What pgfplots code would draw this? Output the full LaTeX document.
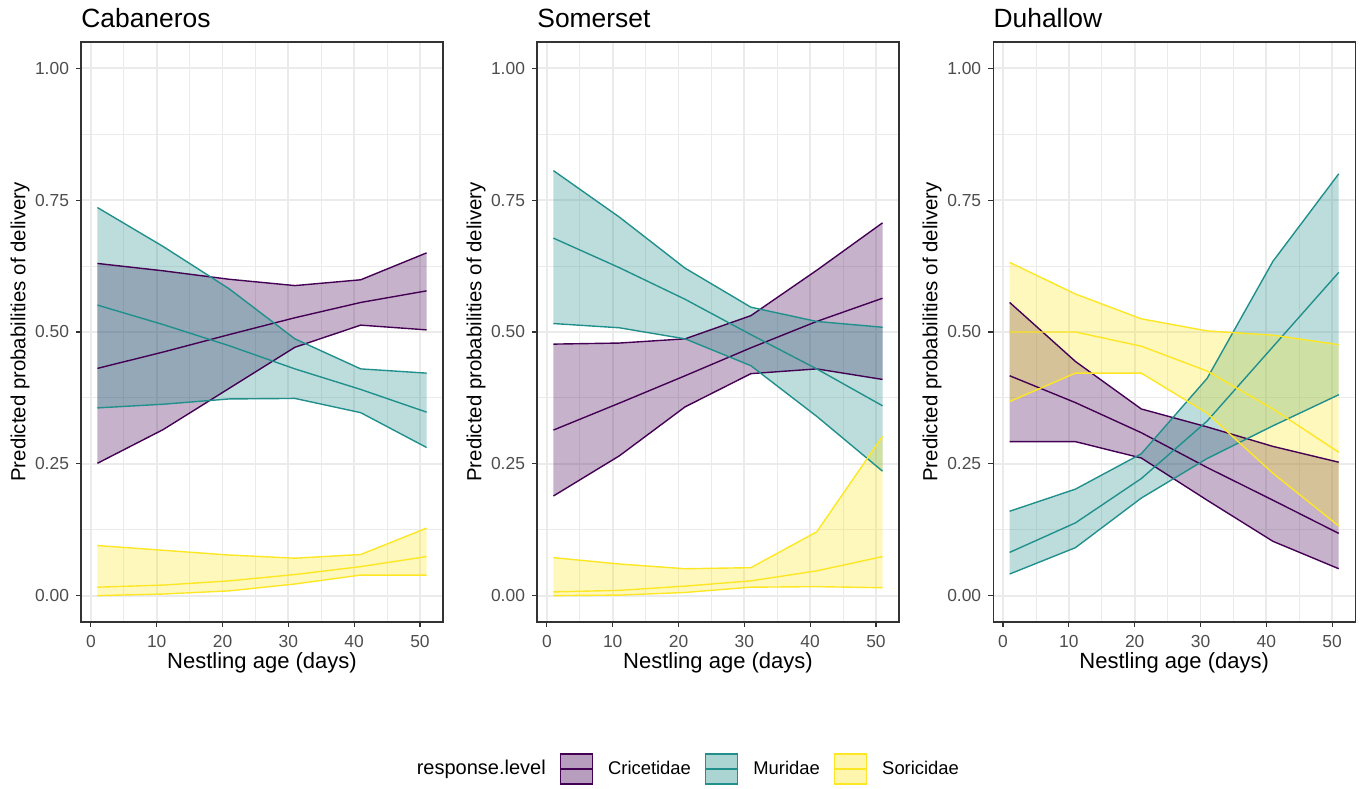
\documentclass[border=0pt]{standalone}
\usepackage{fontspec}
\setmainfont{Liberation Sans}
\usepackage{pgfplots}
\usepackage{pgfplotstable}
\pgfplotsset{compat=1.18}
\usepgfplotslibrary{fillbetween}

\definecolor{cri}{HTML}{440154}
\definecolor{mur}{HTML}{21908C}
\definecolor{sor}{HTML}{FDE725}
\definecolor{gridc}{HTML}{EBEBEB}
\definecolor{tickc}{HTML}{4D4D4D}
\definecolor{framec}{HTML}{333333}

% x = nestling age; c = Cricetidae, m = Muridae, s = Soricidae; u/m/l = upper/mean/lower
\pgfplotstableread{
x  cu    cm    cl    mu    mm    ml    su    sm    sl
1  0.630 0.431 0.251 0.736 0.551 0.356 0.095 0.016 0.000
11 0.616 0.462 0.315 0.662 0.514 0.363 0.086 0.020 0.003
21 0.600 0.495 0.393 0.582 0.474 0.373 0.077 0.028 0.009
31 0.588 0.527 0.471 0.487 0.430 0.374 0.071 0.040 0.022
41 0.599 0.556 0.513 0.430 0.391 0.347 0.078 0.055 0.039
51 0.650 0.578 0.504 0.422 0.348 0.281 0.128 0.074 0.039
}\cab
\pgfplotstableread{
x  cu    cm    cl    mu    mm    ml    su    sm    sl
1  0.477 0.314 0.189 0.806 0.678 0.516 0.072 0.007 0.000
11 0.479 0.365 0.265 0.718 0.622 0.508 0.060 0.010 0.001
21 0.487 0.417 0.358 0.621 0.562 0.487 0.051 0.018 0.006
31 0.531 0.470 0.421 0.547 0.495 0.436 0.053 0.028 0.016
41 0.617 0.520 0.430 0.520 0.430 0.340 0.121 0.047 0.017
51 0.707 0.564 0.410 0.509 0.360 0.236 0.302 0.074 0.015
}\som
\pgfplotstableread{
x  cu    cm    cl    mu    mm    ml    su    sm    sl
1  0.556 0.417 0.292 0.160 0.082 0.041 0.632 0.500 0.368
11 0.444 0.366 0.292 0.202 0.138 0.091 0.572 0.500 0.422
21 0.354 0.309 0.261 0.269 0.222 0.185 0.525 0.473 0.422
31 0.320 0.243 0.181 0.412 0.331 0.260 0.502 0.426 0.346
41 0.283 0.181 0.103 0.634 0.472 0.322 0.494 0.354 0.232
51 0.253 0.118 0.051 0.800 0.613 0.381 0.476 0.272 0.132
}\duh

\pgfplotsset{
  panel/.style={
    scale only axis, width=181pt, height=290pt,
    xmin=-1.5, xmax=53.5, ymin=-0.05, ymax=1.05,
    xtick={0,10,...,50}, ytick={0,0.25,0.5,0.75,1},
    minor xtick={5,15,...,45}, minor ytick={0.125,0.375,0.625,0.875},
    grid=both,
    major grid style={gridc, line width=0.9pt},
    minor grid style={gridc, line width=0.45pt},
    axis line style={framec, line width=0.6pt},
    tick align=outside, major tick length=2.5pt, minor tick length=0pt,
    tick style={framec, line width=0.6pt},
    xtick pos=left, ytick pos=left,
    /pgf/number format/assume math mode=true,
    ticklabel style={font=\fontsize{8.7}{9}\selectfont, text=tickc},
    xticklabel style={yshift=-0.6pt},
    yticklabel style={/pgf/number format/fixed, /pgf/number format/fixed zerofill, /pgf/number format/precision=2},
    xlabel={Nestling age (days)},
    ylabel={Predicted probabilities of delivery},
    every axis x label/.style={at={(axis description cs:0.5,-0.0707)}, anchor=center, font=\fontsize{11}{12}\selectfont},
    every axis y label/.style={at={(axis description cs:-0.1685,0.5)}, rotate=90, anchor=center, font=\fontsize{10.2}{12}\selectfont},
    every axis title/.style={at={(axis description cs:0,1)}, anchor=base west, inner sep=0pt, yshift=7pt, font=\fontsize{13.2}{14}\selectfont},
  },
  band/.style={draw=none, forget plot},
  ln/.style={#1, line width=0.7pt, forget plot},
  fl/.style={fill=#1, fill opacity=0.3, draw=none, forget plot},
}

\newcommand{\group}[5]{% table, upper, mean, lower, colour
  \addplot[band, name path=U#5] table[x=x, y=#2]{#1};
  \addplot[band, name path=L#5] table[x=x, y=#4]{#1};
  \addplot[fl=#5] fill between[of=U#5 and L#5];
  \addplot[ln=#5] table[x=x, y=#2]{#1};
  \addplot[ln=#5] table[x=x, y=#3]{#1};
  \addplot[ln=#5] table[x=x, y=#4]{#1};
}
\newcommand{\keyimg}[1]{%
  \addlegendimage{legend image code/.code={
    \draw[#1, line width=0.7pt, fill=#1, fill opacity=0.38] (0pt,-7.5pt) rectangle (16pt,7.5pt);
    \draw[#1, line width=0.7pt] (0pt,0pt) -- (16pt,0pt);}}}

\begin{document}
\begin{tikzpicture}
\path (0,0) rectangle (681pt,392pt);

\begin{axis}[panel, at={(40.5pt,81pt)}, anchor=south west, title={Cabaneros}]
\group{\cab}{cu}{cm}{cl}{cri}
\group{\cab}{mu}{mm}{ml}{mur}
\group{\cab}{su}{sm}{sl}{sor}
\end{axis}

\begin{axis}[panel, at={(268.5pt,81pt)}, anchor=south west, title={Somerset},
  legend style={draw=none, fill=none, legend columns=-1,
    at={(axis description cs:0.396,-0.2534)}, anchor=center,
    font=\fontsize{9.2}{10}\selectfont,
    nodes={inner sep=0pt},
    /tikz/every even column/.style={column sep=7pt},
    /tikz/every odd column/.style={column sep=7.5pt}}]
\group{\som}{cu}{cm}{cl}{cri}
\group{\som}{mu}{mm}{ml}{mur}
\group{\som}{su}{sm}{sl}{sor}
\addlegendimage{empty legend}
\addlegendentry{\fontsize{10}{11}\selectfont response.level\hspace{1pt}}
\keyimg{cri}
\addlegendentry{Cricetidae}
\keyimg{mur}
\addlegendentry{Muridae}
\keyimg{sor}
\addlegendentry{Soricidae}
\end{axis}

\begin{axis}[panel, at={(496.6pt,81pt)}, anchor=south west, title={Duhallow}]
\group{\duh}{cu}{cm}{cl}{cri}
\group{\duh}{mu}{mm}{ml}{mur}
\group{\duh}{su}{sm}{sl}{sor}
\end{axis}
\end{tikzpicture}
\end{document}
